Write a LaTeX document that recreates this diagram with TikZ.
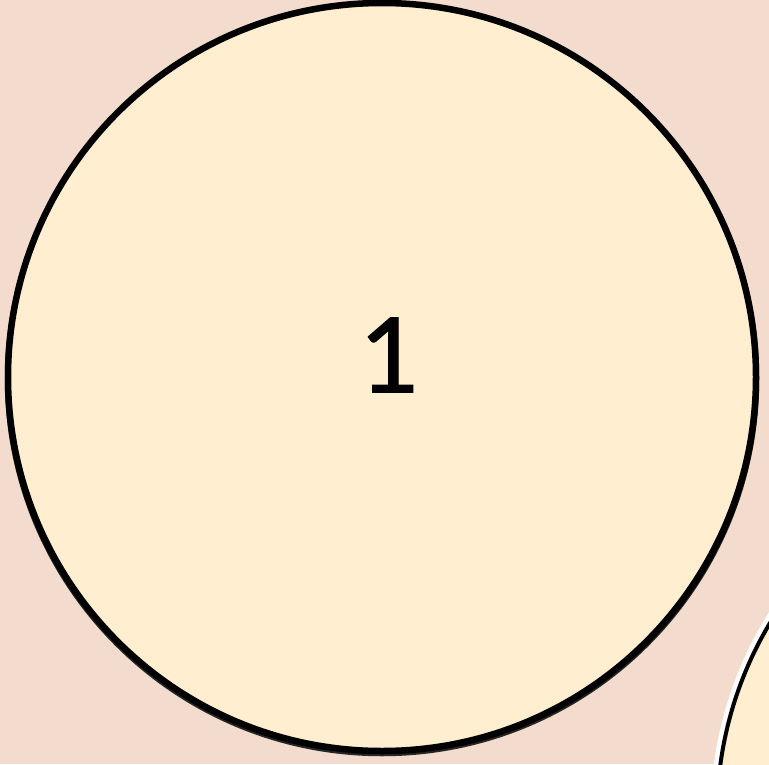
\documentclass[tikz,border=0pt]{standalone}
\usepackage{fontspec}
\setmainfont{Lato}
\newfontfamily\digitfont{Lato}[FakeBold=1.2]
\usetikzlibrary{positioning}
\definecolor{backdrop}{HTML}{F3DCCD}
\definecolor{cream}{HTML}{FFEFD0}
\tikzset{
  disc/.style={
    circle,
    draw=black,
    fill=cream,
    line width=6.5pt,
    minimum size=748pt,
    inner sep=0pt
  },
  rim/.style={
    circle,
    draw=white,
    fill=cream,
    line width=7pt,
    minimum size=754pt,
    inner sep=0pt
  },
  digit/.style={
    font=\digitfont\fontsize{104}{110}\selectfont,
    inner sep=0pt
  }
}
\begin{document}
\begin{tikzpicture}[x=1pt,y=-1pt]
  \useasboundingbox (0,0) rectangle (769,764);
  \fill[backdrop] (0,0) rectangle (769,764);

  \begin{scope}
    \clip (0,0) rectangle (769,764);
    \node[rim] (nextrim) at (1091,815) {};
    \node[disc, line width=4pt] (next) at (1091,815) {};
  \end{scope}

  \node[disc, fill=none, draw=black!85] (shadow) at (382,379) {};
  \node[disc] (ball) at (382,377) {};
  \node[digit] (num) at (390,355) {1};
\end{tikzpicture}
\end{document}
